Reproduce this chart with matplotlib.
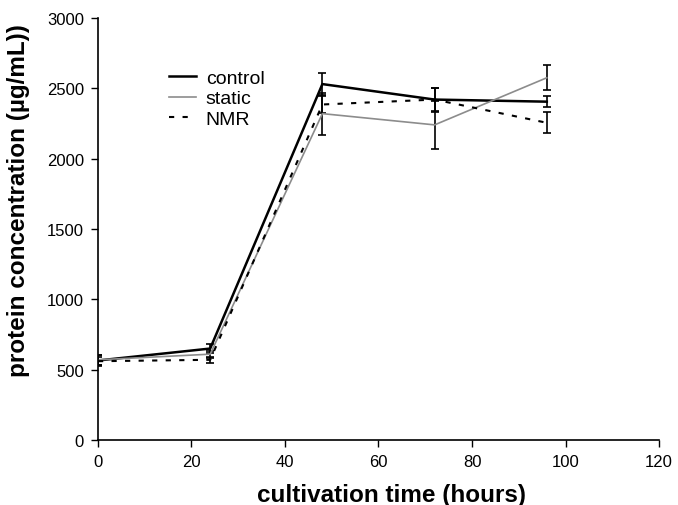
import matplotlib.pyplot as plt

plt.rcParams['font.family'] = ['Liberation Sans', 'DejaVu Sans']

hours = [0, 24, 48, 72, 96]

control = [565, 650, 2530, 2420, 2405]
control_err = [40, 30, 80, 85, 40]

static = [570, 610, 2320, 2240, 2575]
static_err = [35, 25, 150, 170, 90]

nmr = [560, 570, 2385, 2420, 2255]
nmr_err = [30, 20, 60, 80, 75]

fig = plt.figure(figsize=(6.78, 5.06), dpi=100)
ax = fig.add_axes([0.1445, 0.1285, 0.8275, 0.834])

ax.errorbar(hours, control, yerr=control_err, color='black', lw=1.8,
            ecolor='black', elinewidth=1.2, capsize=3, capthick=1.2,
            label='control')
ax.errorbar(hours, static, yerr=static_err, color='#8c8c8c', lw=1.2,
            ecolor='black', elinewidth=1.2, capsize=3, capthick=1.2,
            label='static')
ax.errorbar(hours, nmr, yerr=nmr_err, color='black', lw=1.5, ls=(0, (2.5, 4)),
            ecolor='black', elinewidth=1.2, capsize=3, capthick=1.2,
            label='NMR')

ax.set_xlim(0, 120)
ax.set_ylim(0, 3000)
ax.set_xticks(range(0, 121, 20))
ax.set_yticks(range(0, 3001, 500))
ax.tick_params(labelsize=12, direction='out', length=5, width=1, pad=5)

for s in ['top', 'right']:
    ax.spines[s].set_visible(False)
for s in ['left', 'bottom']:
    ax.spines[s].set_linewidth(1.2)

ax.set_xlabel('cultivation time (hours)', fontsize=17.5, fontweight='bold')
ax.set_ylabel('protein concentration (\u00b5g/mL))', fontsize=17.5, fontweight='bold')
ax.xaxis.set_label_coords(0.523, -0.102)
ax.yaxis.set_label_coords(-0.122, 0.57)

handles, labels = ax.get_legend_handles_labels()
handles = [h[0] for h in handles]
ax.legend(handles, labels, loc='upper left', bbox_to_anchor=(0.095, 0.92),
          frameon=False, fontsize=14, handlelength=1.4, handletextpad=0.5,
          labelspacing=0.15)

plt.savefig('out.png', dpi=100)
